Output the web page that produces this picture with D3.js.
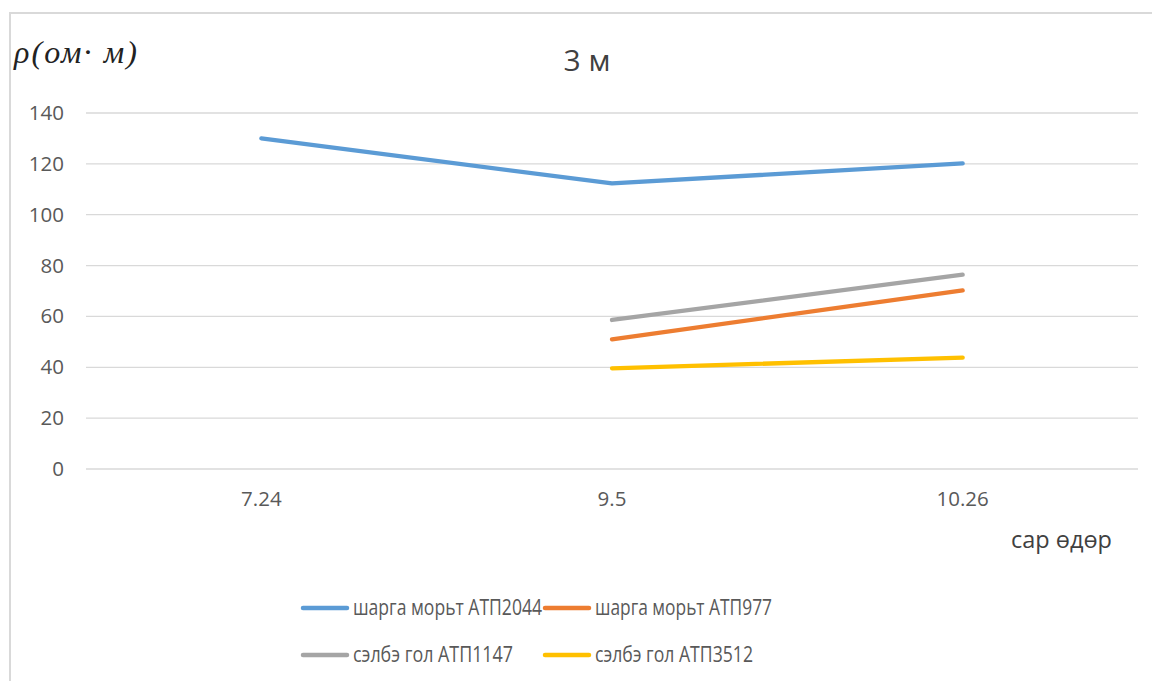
<!DOCTYPE html>
<html>
<head>
<meta charset="utf-8">
<script src="https://cdn.jsdelivr.net/npm/d3@7"></script>
<style>
  html, body { margin: 0; padding: 0; background: #fff; }
  svg { display: block; }
</style>
</head>
<body>
<svg id="chart" width="1152" height="681"></svg>
<script>
// Sampling dates (month.day)
const dates = ["7.24", "9.5", "10.26"];

// Resistivity, ohm·m (null = not measured)
const atp2044 = [130, 112.3, 120.2];
const atp977  = [null, 51.0, 70.2];
const atp1147 = [null, 58.6, 76.4];
const atp3512 = [null, 39.6, 43.8];

const seriesNames = ["шарга морьт АТП2044", "шарга морьт АТП977", "сэлбэ гол АТП1147", "сэлбэ гол АТП3512"];
const seriesColors = ["#5B9BD5", "#ED7D31", "#A5A5A5", "#FFC000"];
const yTicks = [0, 20, 40, 60, 80, 100, 120, 140];

const series = [atp2044, atp977, atp1147, atp3512].map((v, i) => ({
  name: seriesNames[i], color: seriesColors[i], values: v
}));

const svg = d3.select("#chart");
const font = "'Open Sans', 'Noto Sans', sans-serif";
const textColor = "#595959";

// Chart frame
svg.append("path")
  .attr("d", "M10,681 V13 H1152")
  .attr("fill", "none").attr("stroke", "#d9d9d9").attr("stroke-width", 2);

const plot = { left: 86, right: 1138, top: 113, bottom: 469 };

const x = d3.scaleBand().domain(dates).range([plot.left, plot.right]);
const y = d3.scaleLinear().domain([0, 140]).range([plot.bottom, plot.top]);

// Horizontal gridlines
svg.append("g").selectAll("line").data(yTicks).join("line")
  .attr("x1", plot.left).attr("x2", plot.right)
  .attr("y1", d => y(d)).attr("y2", d => y(d))
  .attr("stroke", "#d9d9d9").attr("stroke-width", 1.3);

// Y axis labels
const yAxis = svg.append("g")
  .attr("transform", `translate(${plot.left - 22},0)`)
  .call(d3.axisLeft(y).tickValues(yTicks).tickSize(0).tickPadding(0));
yAxis.select(".domain").remove();
yAxis.selectAll("text")
  .attr("fill", textColor).attr("font-family", font).attr("font-size", 20.5);

// X axis labels
const xAxis = svg.append("g")
  .attr("transform", `translate(0,${plot.bottom})`)
  .call(d3.axisBottom(x).tickSize(0).tickPadding(22));
xAxis.select(".domain").remove();
xAxis.selectAll("text")
  .attr("fill", textColor).attr("font-family", font).attr("font-size", 20.5);

// Lines
const line = d3.line()
  .defined(d => d.v !== null)
  .x(d => x(d.date) + x.bandwidth() / 2)
  .y(d => y(d.v));

svg.append("g").selectAll("path").data(series).join("path")
  .attr("d", s => line(s.values.map((v, i) => ({ date: dates[i], v }))))
  .attr("fill", "none")
  .attr("stroke", s => s.color)
  .attr("stroke-width", 4.3)
  .attr("stroke-linecap", "round")
  .attr("stroke-linejoin", "round");

// Title
svg.append("text")
  .attr("x", 587).attr("y", 71)
  .attr("text-anchor", "middle")
  .attr("fill", "#404040").attr("font-family", font).attr("font-size", 30)
  .text("3 м");

// Y axis unit label
svg.append("text")
  .attr("x", 14).attr("y", 63)
  .attr("fill", "#222").attr("font-family", "'Liberation Serif', 'DejaVu Serif', serif")
  .attr("font-style", "italic").attr("font-size", 32)
  .attr("textLength", 123).attr("lengthAdjust", "spacing")
  .text("ρ(ом· м)");

// X axis title
svg.append("text")
  .attr("x", 1112).attr("y", 548)
  .attr("text-anchor", "end")
  .attr("fill", "#404040").attr("font-family", font).attr("font-size", 23.5)
  .text("сар өдөр");

// Legend
const legendPos = [
  { x: 303, y: 608 }, { x: 545, y: 608 },
  { x: 303, y: 655 }, { x: 545, y: 655 }
];
const legendWidths = [189, 177, 160, 158];
const lg = svg.append("g").selectAll("g").data(series).join("g")
  .attr("transform", (d, i) => `translate(${legendPos[i].x},${legendPos[i].y})`);
lg.append("line")
  .attr("x1", 0).attr("x2", 44).attr("y1", 0).attr("y2", 0)
  .attr("stroke", d => d.color).attr("stroke-width", 4.5).attr("stroke-linecap", "round");
lg.append("text")
  .attr("x", 50).attr("y", 0).attr("dy", "0.35em")
  .attr("fill", textColor).attr("font-family", font).attr("font-size", 21)
  .attr("textLength", (d, i) => legendWidths[i])
  .attr("lengthAdjust", "spacingAndGlyphs")
  .text(d => d.name);
</script>
</body>
</html>
